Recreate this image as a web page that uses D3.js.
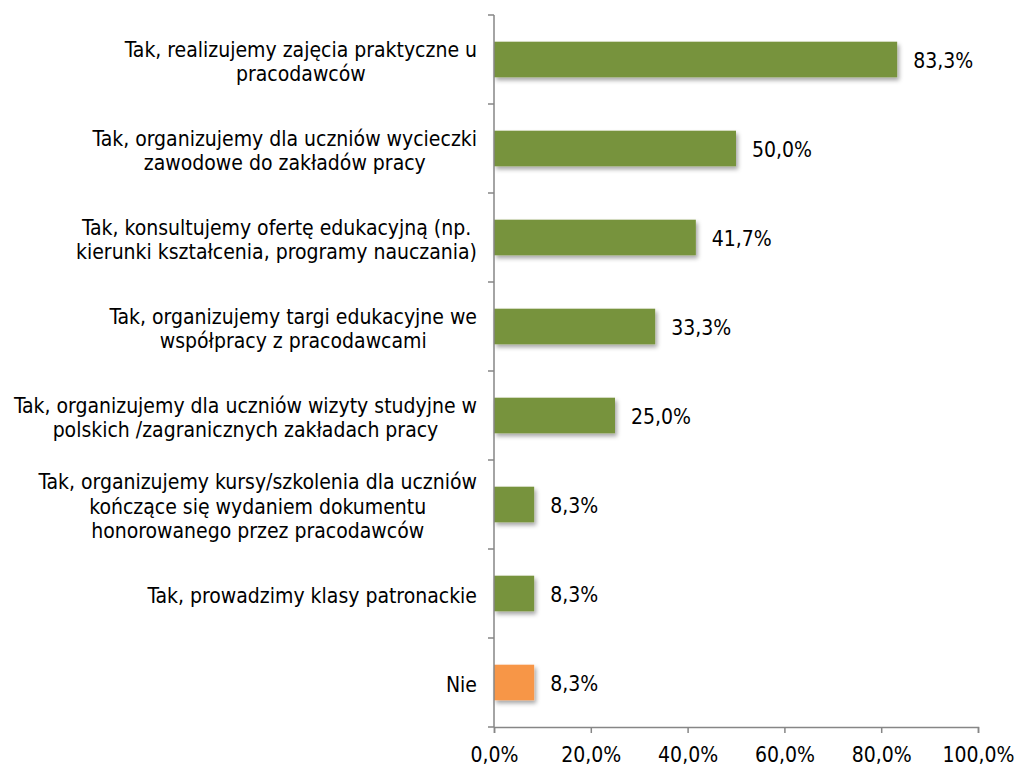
<html>
<head>
<script src="https://d3js.org/d3.v7.min.js" charset="utf-8"></script>
<style type="text/css">
  body { margin: 0; padding: 0; background: #fff; }
  svg text { font-family: "DejaVu Sans Condensed", "DejaVu Sans", sans-serif; font-stretch: condensed; fill: #000; }
</style>
</head>
<body>
<div id="chart"></div>
<script type="text/javascript">
var categories = [
  ["Tak, realizujemy zajęcia praktyczne u", "pracodawców"],
  ["Tak, organizujemy dla uczniów wycieczki", "zawodowe do zakładów pracy"],
  ["Tak, konsultujemy ofertę edukacyjną (np.", "kierunki kształcenia, programy nauczania)"],
  ["Tak, organizujemy targi edukacyjne we", "współpracy z pracodawcami"],
  ["Tak, organizujemy dla uczniów wizyty studyjne w", "polskich /zagranicznych zakładach pracy"],
  ["Tak, organizujemy kursy/szkolenia dla uczniów", "kończące się wydaniem dokumentu", "honorowanego przez pracodawców"],
  ["Tak, prowadzimy klasy patronackie"],
  ["Nie"]
];
var values = [83.3, 50.0, 41.7, 33.3, 25.0, 8.3, 8.3, 8.3];
var barColors = ["#77933C", "#77933C", "#77933C", "#77933C", "#77933C", "#77933C", "#77933C", "#F79646"];
var xTicks = [0, 20, 40, 60, 80, 100];

var width = 1020, height = 769;
var mLeft = 494, mRight = 978, mTop = 15, mBottom = 727;

var svg = d3.select("#chart").append("svg")
  .attr("width", width).attr("height", height);

var defs = svg.append("defs");
var f = defs.append("filter").attr("id", "shadow")
  .attr("x", "-10%").attr("y", "-20%").attr("width", "130%").attr("height", "160%");
f.append("feDropShadow").attr("dx", 2).attr("dy", 3).attr("stdDeviation", 2)
  .attr("flood-color", "#000").attr("flood-opacity", 0.35);

var x = d3.scaleLinear().domain([0, 100]).range([mLeft, mRight]);
var y = d3.scaleBand().domain(d3.range(categories.length)).range([mTop, mBottom]).paddingInner(0.6).paddingOuter(0.3);
var yb = d3.scaleBand().domain(d3.range(categories.length)).range([mTop, mBottom]);

// bars
svg.append("g").selectAll("rect").data(values).enter().append("rect")
  .attr("x", x(0))
  .attr("y", function(d, i) { return y(i); })
  .attr("width", function(d) { return x(d) - x(0); })
  .attr("height", y.bandwidth())
  .attr("fill", function(d, i) { return barColors[i]; })
  .attr("filter", "url(#shadow)");

// value labels
svg.append("g").selectAll("text").data(values).enter().append("text")
  .attr("x", function(d) { return x(d) + 16; })
  .attr("y", function(d, i) { return y(i) + y.bandwidth() / 2 + 1; })
  .attr("dy", "0.35em")
  .style("font-size", "21px")
  .text(function(d) { return d.toFixed(1).replace(".", ",") + "%"; });

// y axis line with ticks between categories
var yAxis = svg.append("g");
yAxis.append("line").attr("x1", mLeft).attr("x2", mLeft).attr("y1", mTop).attr("y2", mBottom)
  .attr("stroke", "#868686").attr("stroke-width", 1.5);
yAxis.selectAll("line.tk").data(d3.range(categories.length + 1)).enter().append("line")
  .attr("class", "tk")
  .attr("x1", mLeft - 6).attr("x2", mLeft)
  .attr("y1", function(i) { return i < categories.length ? yb(i) : mBottom; })
  .attr("y2", function(i) { return i < categories.length ? yb(i) : mBottom; })
  .attr("stroke", "#868686").attr("stroke-width", 1.5);

// x axis
var xAxis = svg.append("g").attr("transform", "translate(0," + mBottom + ")")
  .call(d3.axisBottom(x).tickValues(xTicks).tickSize(6)
    .tickFormat(function(d) { return d.toFixed(1).replace(".", ",") + "%"; }));
xAxis.attr("font-size", null).attr("font-family", null);
xAxis.select(".domain").attr("stroke", "#868686").attr("stroke-width", 1.5);
xAxis.selectAll(".tick line").attr("stroke", "#868686").attr("stroke-width", 1.5);
xAxis.selectAll(".tick text").attr("y", 28).attr("dy", "0.35em")
  .style("font-size", "21px").attr("fill", "#000");

// category labels: lines centred on each other, block right-aligned
var lineH = 24.5;
var labels = svg.append("g").selectAll("g").data(categories).enter().append("g");
labels.each(function(lines, i) {
  var g = d3.select(this);
  var cy = yb(i) + yb.bandwidth() / 2 + 2;
  var t = g.append("text").style("font-size", "21px").attr("text-anchor", "middle");
  lines.forEach(function(s, k) {
    t.append("tspan").attr("x", 0)
      .attr("y", cy + (k - (lines.length - 1) / 2) * lineH)
      .attr("dy", "0.35em").text(s);
  });
  var w = 0;
  t.selectAll("tspan").each(function() { w = Math.max(w, this.getComputedTextLength()); });
  g.attr("transform", "translate(" + (477 - w / 2) + ",0)");
});
</script>
</body>
</html>
